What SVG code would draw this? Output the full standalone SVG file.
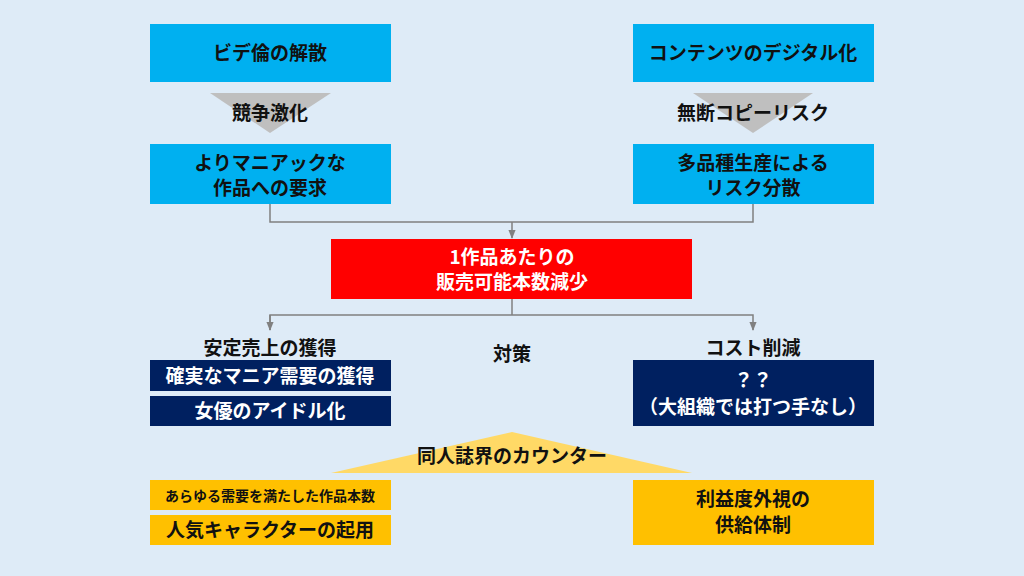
<svg xmlns="http://www.w3.org/2000/svg" width="1024" height="576" viewBox="0 0 1024 576">
<defs>
<style>
text{font-family:"Noto Sans CJK JP","Noto Sans",sans-serif;font-weight:bold;text-anchor:middle}
.b{fill:#00B0F0}.n{fill:#002060}.y{fill:#FFC000}
.w{fill:#fff;font-size:19px}.k{fill:#111;font-size:19px}
.c{stroke:#808080;stroke-width:1.5;fill:none}
</style>
<marker id="a" viewBox="0 0 10 10" refX="9" refY="5" markerWidth="6" markerHeight="6" orient="auto"><path d="M0,1L10,5L0,9z" fill="#808080"/></marker>
</defs>
<rect width="1024" height="576" fill="#DEEBF7"/>
<g id="connectors">
<polygon points="210,93 331,93 270,133" fill="#BFBFBF"/>
<polygon points="693,93 813,93 753,133" fill="#BFBFBF"/>
<path class="c" d="M270,204V222H753V204"/>
<path class="c" d="M512,222V238" marker-end="url(#a)"/>
<path class="c" d="M512,299V315"/>
<path class="c" d="M270,330V315H753V330" marker-end="url(#a)"/>
<path class="c" d="M270,315V330" marker-end="url(#a)"/>
<polygon points="331,473 512,432 692,473" fill="#FFD966"/>
</g>
<g id="n1"><rect class="b" x="150" y="24" width="241" height="58"/><text class="k" x="270" y="60">ビデ倫の解散</text></g>
<g id="n2"><rect class="b" x="633" y="24" width="241" height="58"/><text class="k" x="753" y="60">コンテンツのデジタル化</text></g>
<g id="l1"><text class="k" x="270" y="120">競争激化</text></g>
<g id="l2"><text class="k" x="753" y="120">無断コピーリスク</text></g>
<g id="n3"><rect class="b" x="150" y="144" width="241" height="60"/><text class="k" x="270" y="170">よりマニアックな</text><text class="k" x="270" y="195">作品への要求</text></g>
<g id="n4"><rect class="b" x="633" y="144" width="241" height="60"/><text class="k" x="753" y="170">多品種生産による</text><text class="k" x="753" y="195">リスク分散</text></g>
<g id="n5"><rect x="331" y="239" width="361" height="60" fill="#FF0000"/><text class="w" x="512" y="264">1作品あたりの</text><text class="w" x="512" y="289">販売可能本数減少</text></g>
<g id="l3"><text class="k" x="270" y="355">安定売上の獲得</text></g>
<g id="l4"><text class="k" x="512" y="361">対策</text></g>
<g id="l5"><text class="k" x="753" y="355">コスト削減</text></g>
<g id="n6"><rect class="n" x="150" y="360" width="241" height="31"/><text class="w" x="270" y="383">確実なマニア需要の獲得</text></g>
<g id="n7"><rect class="n" x="150" y="396" width="241" height="30"/><text class="w" x="270" y="418">女優のアイドル化</text></g>
<g id="n8"><rect class="n" x="633" y="360" width="241" height="66"/><text class="w" x="753" y="387">？？</text><text class="w" x="753" y="414">（大組織では打つ手なし）</text></g>
<g id="l6"><text class="k" x="512" y="463">同人誌界のカウンター</text></g>
<g id="n9"><rect class="y" x="150" y="480" width="241" height="30"/><text class="k" x="270" y="501" style="font-size:14px">あらゆる需要を満たした作品本数</text></g>
<g id="n10"><rect class="y" x="150" y="515" width="241" height="30"/><text class="k" x="270" y="537">人気キャラクターの起用</text></g>
<g id="n11"><rect class="y" x="633" y="480" width="241" height="65"/><text class="k" x="753" y="506">利益度外視の</text><text class="k" x="753" y="532">供給体制</text></g>
</svg>
